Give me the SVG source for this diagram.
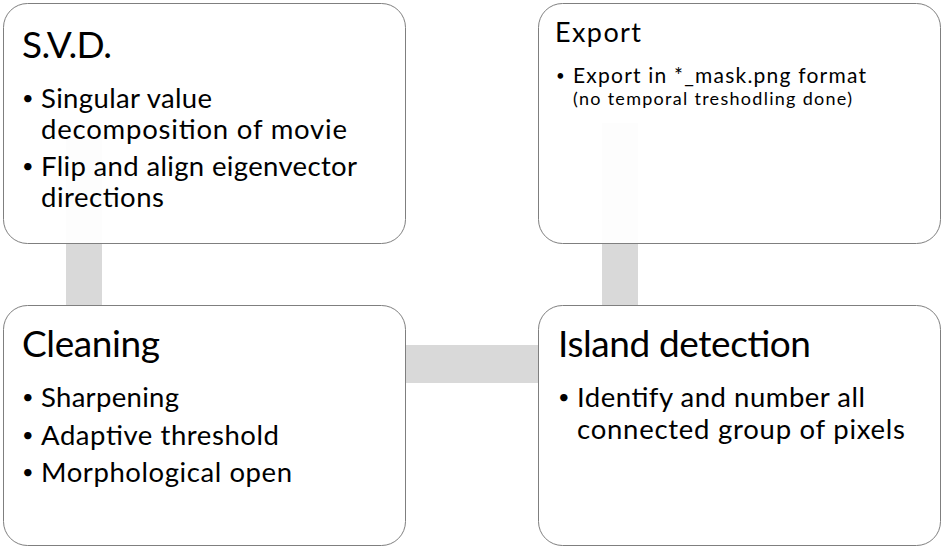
<svg xmlns="http://www.w3.org/2000/svg" width="944" height="549" viewBox="0 0 944 549">
<style>
.box{fill:#ffffff;fill-opacity:0.93;stroke:#7f7f7f;stroke-width:1}
.con{fill:#d9d9d9}
text{font-family:Lato,"Open Sans","Liberation Sans",sans-serif;fill:#000000}
.t1{font-size:37px}
.b1{font-size:27.5px}
.d1{font-size:20px}
.t2{font-size:27px}
.b2{font-size:21px}
.d2{font-size:15px}
.b3{font-size:18px}
</style>
<rect x="0" y="0" width="944" height="549" fill="#ffffff"/>
<g id="connectors">
<rect class="con" x="66" y="137" width="36" height="168"/>
<rect class="con" x="602" y="123" width="36" height="182"/>
<rect class="con" x="405" y="345" width="133" height="38"/>
</g>
<g id="svd">
<rect class="box" x="3.5" y="3.5" width="402" height="240" rx="24"/>
<text class="t1" x="22" y="58" textLength="90">S.V.D.</text>
<text class="d1" x="22" y="105">•</text>
<text class="b1" x="41" y="108" textLength="171">Singular value</text>
<text class="b1" x="41" y="139" textLength="306">decomposition of movie</text>
<text class="d1" x="22" y="173">•</text>
<text class="b1" x="41" y="176" textLength="316">Flip and align eigenvector</text>
<text class="b1" x="41" y="207" textLength="123">directions</text>
</g>
<g id="export">
<rect class="box" x="538.5" y="3.5" width="402" height="240" rx="24"/>
<text class="t2" x="555" y="42" textLength="86">Export</text>
<text class="d2" x="556" y="81">•</text>
<text class="b2" x="573" y="83" textLength="293">Export in *_mask.png format</text>
<text class="b3" x="573" y="105" textLength="279">(no temporal treshodling done)</text>
</g>
<g id="cleaning">
<rect class="box" x="3.5" y="305.5" width="402" height="240" rx="24"/>
<text class="t1" x="22" y="357" textLength="138">Cleaning</text>
<text class="d1" x="22" y="404">•</text>
<text class="b1" x="41" y="407" textLength="138">Sharpening</text>
<text class="d1" x="22" y="442">•</text>
<text class="b1" x="41" y="445" textLength="238">Adaptive threshold</text>
<text class="d1" x="22" y="479">•</text>
<text class="b1" x="41" y="482" textLength="251">Morphological open</text>
</g>
<g id="island">
<rect class="box" x="538.5" y="305.5" width="402" height="240" rx="24"/>
<text class="t1" x="558" y="357" textLength="253">Island detection</text>
<text class="d1" x="558" y="404">•</text>
<text class="b1" x="577" y="407" textLength="288">Identify and number all</text>
<text class="b1" x="577" y="439" textLength="328">connected group of pixels</text>
</g>
</svg>
